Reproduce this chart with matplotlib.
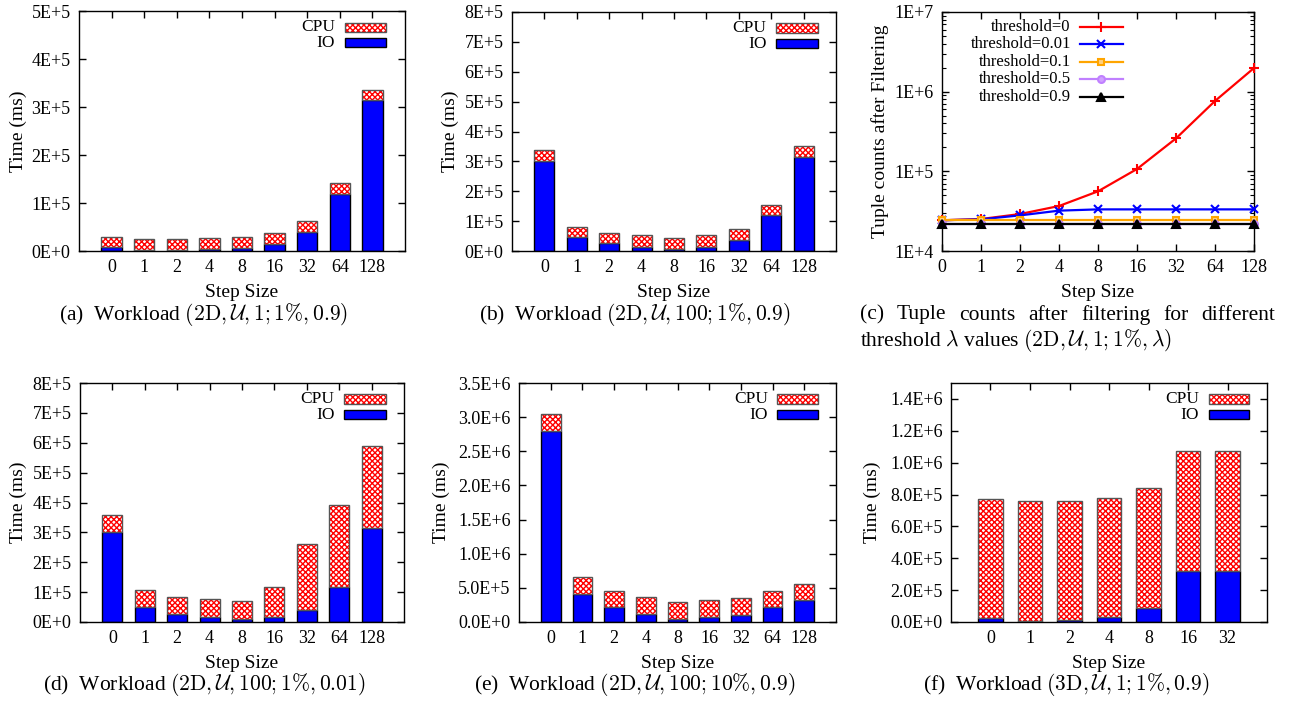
import matplotlib
matplotlib.use('Agg')
import matplotlib.pyplot as plt
from matplotlib.patches import Rectangle
from matplotlib.lines import Line2D
import numpy as np

plt.rcParams['font.family'] = ['Liberation Serif', 'DejaVu Serif']
plt.rcParams['mathtext.fontset'] = 'cm'
plt.rcParams['hatch.linewidth'] = 1.0

# ---------------- data ----------------
steps9 = ['0', '1', '2', '4', '8', '16', '32', '64', '128']
steps7 = ['0', '1', '2', '4', '8', '16', '32']

a_io = [8000, 3000, 3000, 5000, 7000, 15000, 40000, 118000, 315000]
a_cpu = [22000, 22000, 22000, 22000, 22000, 23000, 22000, 23000, 21000]

b_io = [301000, 48000, 26000, 13000, 8000, 13000, 38000, 119000, 315000]
b_cpu = [37000, 34000, 35000, 39000, 34000, 39000, 36000, 34000, 36000]

d_io = [301000, 49000, 27000, 18000, 9000, 18000, 41000, 118000, 313000]
d_cpu = [57000, 57000, 57000, 58000, 60000, 100000, 220000, 273000, 275000]

e_io = [2800000, 413000, 214000, 112000, 49000, 68000, 102000, 214000, 316000]
e_cpu = [240000, 247000, 247000, 247000, 237000, 248000, 248000, 247000, 242000]

f_io = [25000, 8000, 15000, 29000, 90000, 321000, 321000]
f_cpu = [748000, 750000, 745000, 750000, 748000, 750000, 750000]

c_t0 = [24300, 25200, 29100, 36700, 56100, 107000, 259000, 764000, 1980000]
c_t001 = [24300, 25000, 28000, 32100, 33300, 33300, 33300, 33300, 33300]
c_t01 = [24500, 24500, 24500, 24500, 24500, 24500, 24500, 24500, 24500]
c_t05 = [22000, 22000, 22000, 22000, 22000, 22000, 22000, 22000, 22000]
c_t09 = [21800, 21800, 21800, 21800, 21800, 21800, 21800, 21800, 21800]
c_labels = ['threshold=0', 'threshold=0.01', 'threshold=0.1', 'threshold=0.5', 'threshold=0.9']

yt_ab = ['0E+0', '1E+5', '2E+5', '3E+5', '4E+5', '5E+5', '6E+5', '7E+5', '8E+5']
yt_e = ['0.0E+0', '5.0E+5', '1.0E+6', '1.5E+6', '2.0E+6', '2.5E+6', '3.0E+6', '3.5E+6']
yt_f = ['0.0E+0', '2.0E+5', '4.0E+5', '6.0E+5', '8.0E+5', '1.0E+6', '1.2E+6', '1.4E+6']
yt_c = ['1E+4', '1E+5', '1E+6', '1E+7']

# ---------------- figure ----------------
W, H = 1292, 702
fig = plt.figure(figsize=(W / 100, H / 100), dpi=100)

TICK_FS = 13
LAB_FS = 14
CAP_FS = 15.5
LEG_FS = 12.5
HATCH = 'xxxxxx'


def px_rect(l, t, r, b):
    return [l / W, 1 - b / H, (r - l) / W, (b - t) / H]


def style_axes(ax):
    for s in ax.spines.values():
        s.set_linewidth(1.0)
    ax.tick_params(direction='in', top=True, right=True, length=5, width=1,
                   labelsize=TICK_FS, pad=6)
    ax.tick_params(which='minor', direction='in', top=False, right=True, length=3, width=0.8)


def bar_panel(rect_px, cats, io, cpu, ymax, yticks, ylabels, ylabel_x, caption, cap_x, cap_y):
    l, t, r, b = rect_px
    ax = fig.add_axes(px_rect(l, t, r, b))
    x = np.arange(len(cats))
    w = 0.62
    io = np.array(io)
    cpu = np.array(cpu)
    ax.bar(x, io, width=w, color='#0000ff', edgecolor='black', lw=1, zorder=2)
    ax.bar(x, cpu, bottom=io, width=w, color='white', edgecolor='#ff0000',
           hatch=HATCH, lw=0, zorder=2)
    ax.bar(x, cpu, bottom=io, width=w, fill=False, edgecolor='#555555', lw=1, zorder=3)
    ax.set_xlim(-1, len(cats))
    ax.set_ylim(0, ymax)
    ax.set_xticks(x)
    ax.set_xticklabels(cats)
    ax.set_yticks(yticks)
    ax.set_yticklabels(ylabels)
    style_axes(ax)
    # legend (gnuplot style)
    for yy, lab in [(0.933, 'CPU'), (0.867, 'IO')]:
        ax.text(0.785, yy, lab, transform=ax.transAxes, ha='right', va='center', fontsize=LEG_FS)
    ax.add_patch(Rectangle((0.815, 0.933 - 0.019), 0.128, 0.038, transform=ax.transAxes,
                           facecolor='white', edgecolor='#ff0000', hatch=HATCH, lw=0, zorder=4))
    ax.add_patch(Rectangle((0.815, 0.933 - 0.019), 0.128, 0.038, transform=ax.transAxes,
                           fill=False, edgecolor='#555555', lw=1, zorder=5))
    ax.add_patch(Rectangle((0.815, 0.867 - 0.019), 0.128, 0.038, transform=ax.transAxes,
                           facecolor='#0000ff', edgecolor='black', lw=1, zorder=4))
    # labels
    fig.text(ylabel_x / W, 1 - (t + b) / 2 / H, 'Time (ms)', rotation=90,
             ha='center', va='center', fontsize=LAB_FS)
    fig.text((l + r) / 2 / W, 1 - (b + 42) / H, 'Step Size', ha='center', va='center', fontsize=LAB_FS)
    fig.text(cap_x / W, 1 - cap_y / H, caption, ha='center', va='center', fontsize=CAP_FS)
    return ax


bar_panel((79, 11, 405, 251), steps9, a_io, a_cpu, 5e5, np.arange(6) * 1e5, yt_ab[:6], 18,
          r'(a)  Workload $(\mathrm{2D},\mathcal{U},1;1\%,0.9)$', 204, 315)
bar_panel((512, 12, 836, 251), steps9, b_io, b_cpu, 8e5, np.arange(9) * 1e5, yt_ab, 450,
          r'(b)  Workload $(\mathrm{2D},\mathcal{U},100;1\%,0.9)$', 635, 315)
bar_panel((80, 383, 404, 622), steps9, d_io, d_cpu, 8e5, np.arange(9) * 1e5, yt_ab, 18,
          r'(d)  Workload $(\mathrm{2D},\mathcal{U},100;1\%,0.01)$', 204, 685)
bar_panel((519, 383, 836, 622), steps9, e_io, e_cpu, 3.5e6, np.arange(8) * 5e5, yt_e, 441,
          r'(e)  Workload $(\mathrm{2D},\mathcal{U},100;10\%,0.9)$', 635, 685)
bar_panel((951, 383, 1267, 622), steps7, f_io, f_cpu, 1.5e6, np.arange(8) * 2e5, yt_f, 872,
          r'(f)  Workload $(\mathrm{3D},\mathcal{U},1;1\%,0.9)$', 1066, 685)

# ---------------- panel (c) ----------------
l, t, r, b = 942, 12, 1254, 251
axc = fig.add_axes(px_rect(l, t, r, b))
xc = np.arange(len(steps9))
series = [c_t0, c_t001, c_t01, c_t05, c_t09]
colors = ['#ff0000', '#0000ff', '#ffa500', '#c080ff', '#000000']
markers = ['+', 'x', 's', 'o', '^']
mfc = ['#ff0000', '#0000ff', '#ffd080', '#d0a0ff', '#000000']
msz = [7, 6, 5, 5, 6]
for i in range(5):
    axc.plot(xc, series[i], color=colors[i], marker=markers[i], markersize=msz[i],
             markerfacecolor=mfc[i], markeredgecolor=colors[i], markeredgewidth=1.5,
             lw=1.6, zorder=3 + i, clip_on=False)
axc.set_yscale('log')
axc.set_ylim(1e4, 1e7)
axc.set_xlim(0, 8)
axc.set_xticks(xc)
axc.set_xticklabels(steps9)
axc.set_yticks([1e4, 1e5, 1e6, 1e7])
axc.set_yticklabels(yt_c)
style_axes(axc)
axc.tick_params(which='minor', left=True, right=True, length=3)
leg_y = [0.937, 0.866, 0.791, 0.720, 0.644]
for i in range(5):
    axc.text(0.413, leg_y[i], c_labels[i], transform=axc.transAxes, ha='right', va='center',
             fontsize=LEG_FS - 0.5)
    axc.add_line(Line2D([0.442, 0.580], [leg_y[i], leg_y[i]], transform=axc.transAxes,
                        color=colors[i], lw=1.6, zorder=10))
    axc.add_line(Line2D([0.511], [leg_y[i]], transform=axc.transAxes, color=colors[i],
                        marker=markers[i], markersize=msz[i], markerfacecolor=mfc[i],
                        markeredgecolor=colors[i], markeredgewidth=1.5, zorder=11))
fig.text(880 / W, 1 - (t + b) / 2 / H, 'Tuple counts after Filtering', rotation=90,
         ha='center', va='center', fontsize=LAB_FS)
fig.text((l + r) / 2 / W, 1 - (b + 42) / H, 'Step Size', ha='center', va='center', fontsize=LAB_FS)

# justified two-line caption for (c)
renderer = fig.canvas.get_renderer()
words = ['(c)', 'Tuple', 'counts', 'after', 'filtering', 'for', 'different']
x0, x1 = 860, 1275
objs = [fig.text(0, 1 - 315 / H, wd, ha='left', va='center', fontsize=CAP_FS) for wd in words]
widths = [o.get_window_extent(renderer).width for o in objs]
gap = (x1 - x0 - sum(widths)) / (len(words) - 1)
xx = x0
for o, wdt in zip(objs, widths):
    o.set_x(xx / W)
    xx += wdt + gap
fig.text(x0 / W, 1 - 340 / H, r'threshold $\lambda$ values $(\mathrm{2D},\mathcal{U},1;1\%,\lambda)$',
         ha='left', va='center', fontsize=CAP_FS)

fig.savefig('out.png', dpi=100)
